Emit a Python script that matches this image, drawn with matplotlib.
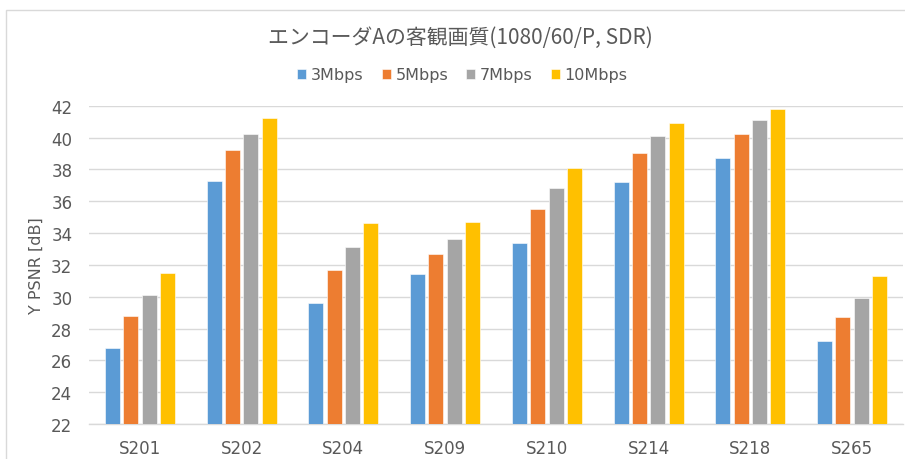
import numpy as np
import matplotlib
matplotlib.use("Agg")
import matplotlib.pyplot as plt
from matplotlib.patches import Rectangle

plt.rcParams['font.family'] = 'DejaVu Sans'

# PSNR per sequence and bitrate
sequences = ['S201', 'S202', 'S204', 'S209', 'S210', 'S214', 'S218', 'S265']
bitrates = ['3Mbps', '5Mbps', '7Mbps', '10Mbps']
psnr_3 = [26.8, 37.3, 29.6, 31.4, 33.4, 37.2, 38.7, 27.2]
psnr_5 = [28.8, 39.2, 31.7, 32.7, 35.5, 39.0, 40.2, 28.7]
psnr_7 = [30.1, 40.2, 33.1, 33.6, 36.8, 40.1, 41.1, 29.9]
psnr_10 = [31.5, 41.2, 34.6, 34.7, 38.1, 40.9, 41.8, 31.3]
yticks = [22, 24, 26, 28, 30, 32, 34, 36, 38, 40, 42]

series = [psnr_3, psnr_5, psnr_7, psnr_10]
colors = ['#5B9BD5', '#ED7D31', '#A5A5A5', '#FFC000']
text_col = '#595959'
grid_col = '#D9D9D9'

fig = plt.figure(figsize=(9.05, 4.6), dpi=100)
# chart frame (only left and top edges are visible)
fig.patches.append(Rectangle((6 / 905, -0.1), 1.2, 1 - 11 / 460 + 0.1,
                             transform=fig.transFigure, fill=False,
                             edgecolor=grid_col, linewidth=1.0))

ax = fig.add_axes([89 / 905, 1 - 425 / 460, 814 / 905, (425 - 106.7) / 460])

x = np.arange(len(sequences))
pitch = 0.18
width = 0.147
for i, (vals, col, lab) in enumerate(zip(series, colors, bitrates)):
    ax.bar(x + (i - 1.5) * pitch, np.array(vals) - 22, width, bottom=22,
           color=col, label=lab, edgecolor='white', linewidth=0.4, zorder=3)

ax.set_xlim(-0.5, len(sequences) - 0.5)
ax.set_ylim(22, 42)
ax.set_yticks(yticks)
ax.set_xticks(x)
ax.set_xticklabels(sequences)
ax.yaxis.grid(True, color=grid_col, linewidth=1.0, zorder=0)
for s in ['top', 'right', 'left']:
    ax.spines[s].set_visible(False)
ax.spines['bottom'].set_color(grid_col)
ax.spines['bottom'].set_linewidth(1.0)
ax.tick_params(axis='both', length=0, labelsize=12, colors=text_col)
ax.tick_params(axis='x', pad=11)
ax.tick_params(axis='y', pad=12)
ax.set_ylabel('Y PSNR [dB]', fontsize=11.5, color=text_col, labelpad=5)

fig.text(0.509, 1 - 38 / 460, 'エンコーダAの客観画質(1080/60/P, SDR)',
         ha='center', va='center', fontsize=15, color=text_col,
         family=['Noto Sans CJK JP', 'DejaVu Sans'])

fig.legend(loc='center', bbox_to_anchor=(0.511, 1 - 76 / 460), ncol=4,
           frameon=False, fontsize=11.5, labelcolor=text_col,
           handlelength=0.55, handleheight=0.55, handletextpad=0.3,
           columnspacing=1.15)

fig.savefig('out.png', dpi=100)
